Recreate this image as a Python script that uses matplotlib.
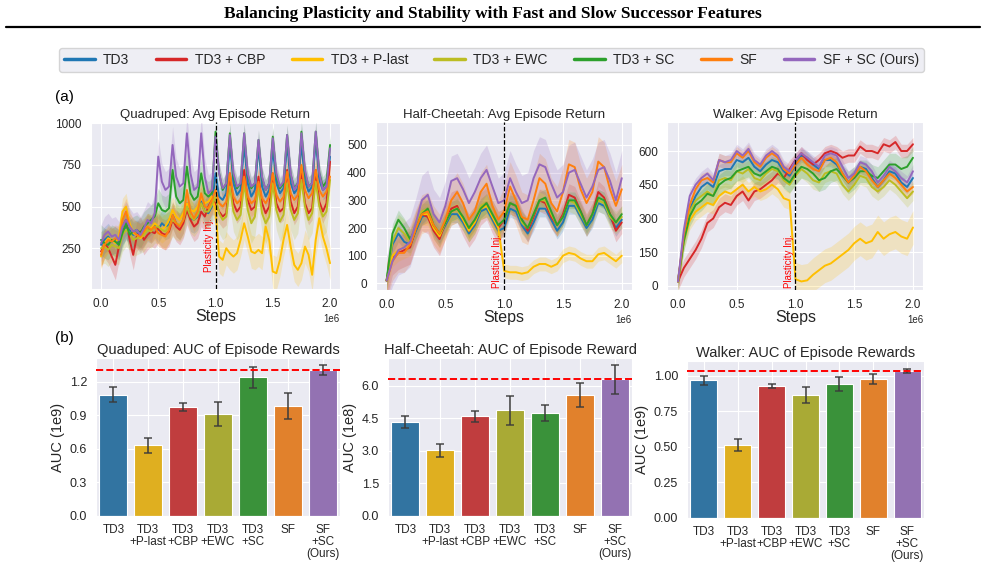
import numpy as np
import matplotlib
matplotlib.use("Agg")
import matplotlib.pyplot as plt
from matplotlib.lines import Line2D
import seaborn as sns

# ---- legend / method names ----
methods = ["TD3", "TD3 + CBP", "TD3 + P-last", "TD3 + EWC", "TD3 + SC", "SF", "SF + SC (Ours)"]
line_colors = ["#1f77b4", "#d62728", "#ffbf00", "#bcbd22", "#2ca02c", "#ff7f0e", "#9467bd"]

# ---- (a) Quadruped: avg episode return, every 1/32 of 1e6 steps ----
quad_td3 = [270, 300, 320, 290, 300, 280, 350, 380, 360, 330, 340, 320, 340, 370, 360, 390,
            360, 400, 380, 390, 450, 400, 380, 420, 520, 430, 420, 440, 530, 470, 460, 500,
            700, 560, 540, 580, 880, 640, 570, 600, 870, 640, 560, 600, 860, 620, 560, 600,
            850, 640, 580, 610, 880, 640, 580, 610, 880, 650, 590, 620, 900, 660, 600, 620, 800]
quad_cbp = [230, 280, 250, 200, 150, 260, 380, 420, 300, 210, 320, 350, 300, 330, 350, 340,
            370, 340, 330, 350, 420, 380, 360, 400, 480, 420, 380, 400, 470, 440, 500, 540,
            520, 470, 440, 460, 700, 520, 470, 500, 720, 540, 480, 500, 680, 520, 460, 500,
            700, 520, 470, 490, 720, 530, 460, 500, 700, 520, 460, 490, 720, 530, 470, 520, 770]
quad_plast = [200, 280, 310, 300, 280, 320, 470, 500, 400, 340, 330, 310, 330, 380, 370, 400,
              380, 360, 380, 420, 480, 440, 420, 460, 520, 480, 470, 500, 560, 520, 530, 560,
              480, 200, 180, 250, 220, 200, 220, 300, 400, 320, 230, 220, 240, 220, 380, 300,
              110, 100, 180, 300, 390, 260, 150, 120, 160, 260, 210, 90, 300, 430, 320, 250, 160]
quad_ewc = [250, 260, 240, 270, 260, 250, 330, 360, 340, 300, 310, 320, 330, 360, 350, 380,
            380, 360, 350, 380, 420, 400, 390, 420, 500, 440, 420, 450, 520, 470, 470, 510,
            560, 460, 420, 440, 620, 470, 420, 450, 640, 480, 400, 440, 620, 460, 400, 440,
            640, 480, 410, 450, 640, 480, 420, 460, 660, 500, 420, 460, 650, 500, 440, 470, 660]
quad_sc = [300, 280, 270, 300, 290, 270, 340, 400, 330, 350, 360, 340, 380, 400, 420, 440,
           520, 480, 470, 490, 720, 560, 520, 540, 740, 580, 540, 560, 700, 580, 560, 580,
           950, 700, 600, 640, 940, 680, 610, 640, 940, 690, 610, 640, 900, 670, 600, 640,
           920, 680, 610, 640, 930, 690, 610, 640, 950, 700, 620, 640, 950, 700, 620, 650, 870]
quad_sf = [210, 270, 300, 290, 310, 300, 420, 470, 380, 350, 330, 320, 350, 380, 360, 380,
           340, 330, 320, 360, 450, 400, 380, 420, 600, 470, 430, 470, 580, 500, 490, 540,
           600, 520, 500, 530, 700, 560, 520, 540, 680, 560, 520, 540, 650, 550, 520, 560,
           700, 570, 530, 560, 710, 580, 540, 570, 750, 600, 550, 580, 720, 600, 560, 590, 680]
quad_sfsc = [280, 330, 350, 320, 330, 300, 380, 420, 380, 350, 360, 330, 370, 420, 400, 460,
             800, 650, 600, 620, 870, 680, 620, 640, 940, 700, 600, 620, 940, 680, 580, 600,
             920, 700, 610, 640, 930, 700, 620, 640, 940, 700, 620, 640, 900, 680, 600, 640,
             910, 700, 620, 650, 930, 700, 600, 640, 940, 720, 620, 640, 950, 700, 600, 620, 850]
quad_spread_pre = [80, 90, 80, 100, 90, 80, 110]
quad_spread_post = [60, 70, 100, 120, 60, 80, 60]

# ---- (a) Half-Cheetah, every 0.05e6 steps ----
hc_td3 = [10, 140, 180, 150, 140, 190, 240, 250, 200, 170, 210, 250, 250, 220, 180, 210, 260, 270, 230, 190,
          200, 270, 260, 210, 180, 220, 270, 270, 230, 190, 220, 280, 280, 240, 200, 230, 290, 280, 240, 200, 230]
hc_cbp = [10, 90, 110, 120, 130, 200, 250, 240, 190, 160, 220, 270, 280, 230, 190, 220, 270, 290, 240, 200,
          230, 290, 280, 230, 190, 240, 300, 290, 240, 210, 250, 320, 310, 260, 210, 250, 330, 310, 250, 190, 220]
hc_plast = [10, 100, 120, 130, 140, 200, 250, 250, 200, 170, 220, 260, 270, 230, 190, 220, 270, 280, 240, 200,
            45, 40, 40, 35, 40, 60, 70, 70, 60, 70, 100, 110, 105, 90, 80, 80, 105, 110, 95, 80, 100]
hc_ewc = [10, 150, 200, 180, 150, 210, 260, 270, 210, 180, 220, 260, 270, 240, 200, 230, 280, 290, 250, 210,
          230, 290, 280, 220, 200, 250, 300, 300, 250, 210, 240, 300, 290, 250, 210, 250, 300, 290, 240, 220, 240]
hc_sc = [10, 180, 230, 200, 160, 200, 250, 270, 210, 180, 220, 260, 270, 240, 200, 230, 270, 290, 250, 210,
         230, 290, 280, 230, 200, 250, 300, 310, 260, 210, 240, 300, 300, 260, 210, 250, 310, 300, 250, 220, 250]
hc_sf = [10, 80, 110, 110, 140, 200, 250, 260, 210, 180, 230, 300, 330, 290, 230, 260, 330, 360, 280, 230,
         260, 350, 300, 240, 230, 300, 380, 360, 290, 260, 330, 430, 420, 340, 290, 330, 440, 420, 340, 280, 340]
hc_sfsc = [10, 80, 120, 130, 150, 220, 300, 320, 250, 220, 280, 370, 380, 340, 290, 330, 380, 410, 350, 290,
           300, 380, 330, 290, 300, 380, 430, 420, 360, 310, 330, 400, 410, 360, 310, 350, 410, 420, 370, 300, 380]
hc_spread_pre = [30, 60, 40, 50, 35, 70, 90]
hc_spread_post = [30, 40, 25, 40, 30, 90, 100]

# ---- (a) Walker, every 0.05e6 steps ----
wk_td3 = [20, 220, 340, 400, 440, 460, 440, 510, 520, 520, 560, 550, 570, 530, 510, 540, 560, 550, 510, 490,
          540, 580, 570, 540, 520, 560, 560, 540, 500, 460, 490, 530, 520, 480, 440, 470, 510, 500, 460, 440, 480]
wk_cbp = [20, 80, 120, 160, 210, 280, 300, 350, 370, 360, 400, 420, 380, 420, 430, 450, 470, 500, 480, 520,
          560, 590, 560, 540, 560, 590, 600, 590, 570, 580, 580, 620, 600, 600, 590, 630, 620, 640, 600, 600, 630]
wk_plast = [20, 200, 290, 330, 350, 370, 360, 400, 420, 410, 430, 450, 420, 440, 420, 430, 450, 430, 390, 380,
            30, 20, 25, 50, 70, 90, 100, 120, 140, 160, 190, 210, 190, 200, 240, 210, 230, 240, 220, 210, 260]
wk_ewc = [20, 210, 330, 380, 400, 420, 400, 470, 480, 470, 510, 500, 520, 480, 470, 500, 520, 510, 470, 450,
          490, 520, 500, 470, 460, 500, 510, 500, 450, 420, 450, 490, 480, 440, 420, 440, 470, 450, 420, 390, 420]
wk_sc = [20, 200, 310, 360, 380, 410, 400, 450, 470, 480, 510, 520, 530, 500, 490, 510, 530, 520, 480, 460,
         500, 530, 520, 500, 470, 480, 510, 520, 490, 460, 480, 510, 510, 490, 480, 510, 540, 540, 520, 530, 570]
wk_sf = [20, 230, 360, 430, 470, 480, 460, 560, 550, 550, 590, 570, 600, 550, 530, 570, 590, 570, 520, 500,
         540, 570, 540, 520, 510, 560, 570, 550, 500, 460, 490, 530, 510, 470, 440, 470, 500, 480, 450, 420, 440]
wk_sfsc = [20, 250, 400, 450, 480, 500, 470, 560, 550, 560, 600, 580, 610, 560, 540, 580, 600, 580, 530, 510,
           560, 590, 570, 550, 530, 580, 590, 580, 530, 480, 500, 550, 540, 510, 460, 490, 530, 510, 480, 460, 510]
wk_spread_pre = [30, 40, 40, 40, 45, 30, 30]
wk_spread_post = [30, 30, 75, 40, 50, 30, 30]

# ---- (b) AUC bars ----
bar_labels = ["TD3", "TD3\n+P-last", "TD3\n+CBP", "TD3\n+EWC", "TD3\n+SC", "SF", "SF\n+SC\n(Ours)"]
bar_colors = ["#1f77b4", "#ffbf00", "#d62728", "#bcbd22", "#2ca02c", "#ff7f0e", "#9467bd"]
quad_auc = [1.08, 0.63, 0.97, 0.91, 1.24, 0.98, 1.305]
quad_err = [0.067, 0.065, 0.035, 0.107, 0.094, 0.116, 0.045]
hc_auc = [4.34, 3.02, 4.58, 4.86, 4.74, 5.56, 6.29]
hc_err = [0.28, 0.29, 0.27, 0.67, 0.38, 0.55, 0.66]
wk_auc = [0.968, 0.516, 0.928, 0.865, 0.940, 0.979, 1.035]
wk_err = [0.032, 0.041, 0.014, 0.058, 0.049, 0.034, 0.017]

sns.set_style("darkgrid")
plt.rcParams["font.family"] = ["Liberation Sans", "DejaVu Sans"]
txt = "#262626"

W, H = 985, 576
fig = plt.figure(figsize=(W / 100, H / 100), dpi=100)


def box(left, top, right, bottom):
    return [left / W, 1 - bottom / H, (right - left) / W, (bottom - top) / H]


def draw_returns(ax, steps, curves, sp_pre, sp_post, title, ylim, yticks, inj_y):
    for color, y, s0, s1 in zip(line_colors, curves, sp_pre, sp_post):
        y = np.asarray(y, dtype=float)
        half = np.where(steps < 1e6, s0, s1)
        ax.fill_between(steps, y - half, y + half, color=color, alpha=0.2, lw=0)
        ax.plot(steps, y, color=color, lw=1.4)
    ax.axvline(1e6, color="k", ls="--", lw=0.9, zorder=5)
    ax.text(0.985e6, inj_y, "Plasticity Inj.", color="red", rotation=90,
            fontsize=7, ha="right", va="bottom",
            transform=ax.get_xaxis_transform())
    ax.set_xlim(-0.09e6, 2.087e6)
    ax.set_ylim(*ylim)
    ax.set_xticks([0, 0.5e6, 1e6, 1.5e6, 2e6])
    ax.set_yticks(yticks)
    ax.set_title(title, fontsize=9.5, color=txt, pad=3)
    ax.set_xlabel("Steps", fontsize=11.5, color=txt, labelpad=-1)
    ax.tick_params(labelsize=8.5, colors=txt, pad=3)
    ax.xaxis.get_offset_text().set_fontsize(7)


def draw_auc(ax, vals, errs, title, ylabel, ylim, yticks, fmt):
    x = np.arange(len(vals))
    cols = [sns.desaturate(c, 0.75) for c in bar_colors]
    ax.bar(x, vals, width=0.8, color=cols, edgecolor="white", lw=0.8, zorder=2)
    ax.errorbar(x, vals, yerr=errs, fmt="none", ecolor="#3b3b3b", elinewidth=1.3,
                capsize=3, capthick=1.2, alpha=0.85, zorder=3)
    ax.axhline(vals[-1], color="red", ls="--", lw=1.4, zorder=4)
    ax.set_xlim(-0.5, len(vals) - 0.5)
    ax.set_ylim(*ylim)
    ax.set_yticks(yticks)
    ax.set_yticklabels([fmt % t for t in yticks])
    ax.set_xticks(x)
    ax.set_xticklabels(bar_labels, fontsize=8.5, color=txt, linespacing=1.0)
    ax.tick_params(axis="y", labelsize=9, colors=txt, pad=3)
    ax.tick_params(axis="x", pad=2)
    ax.set_title(title, fontsize=10.5, color=txt, pad=3)
    ax.set_ylabel(ylabel, fontsize=10.5, color=txt, labelpad=3)


quad_steps = np.arange(len(quad_td3)) / 32 * 1e6
hc_steps = np.arange(len(hc_td3)) * 0.05e6
wk_steps = np.arange(len(wk_td3)) * 0.05e6

ax1 = fig.add_axes(box(90.7, 122, 340, 289))
draw_returns(ax1, quad_steps, [quad_td3, quad_cbp, quad_plast, quad_ewc, quad_sc, quad_sf, quad_sfsc],
             quad_spread_pre, quad_spread_post, "Quadruped: Avg Episode Return",
             (5, 1008), [250, 500, 750, 1000], 0.1)
ax2 = fig.add_axes(box(376, 122, 632, 290))
draw_returns(ax2, hc_steps, [hc_td3, hc_cbp, hc_plast, hc_ewc, hc_sc, hc_sf, hc_sfsc],
             hc_spread_pre, hc_spread_post, "Half-Cheetah: Avg Episode Return",
             (-24, 583), [0, 100, 200, 300, 400, 500], 0.01)
ax3 = fig.add_axes(box(667.4, 122, 923.2, 290))
draw_returns(ax3, wk_steps, [wk_td3, wk_cbp, wk_plast, wk_ewc, wk_sc, wk_sf, wk_sfsc],
             wk_spread_pre, wk_spread_post, "Walker: Avg Episode Return",
             (-18, 729), [0, 150, 300, 450, 600], 0.01)

bx1 = fig.add_axes(box(96, 358, 340, 516))
draw_auc(bx1, quad_auc, quad_err, "Quaduped: AUC of Episode Rewards", "AUC (1e9)",
         (0, 1.41), [0.0, 0.3, 0.6, 0.9, 1.2], "%.1f")
bx2 = fig.add_axes(box(388, 358, 632, 516))
draw_auc(bx2, hc_auc, hc_err, "Half-Cheetah: AUC of Episode Reward", "AUC (1e8)",
         (0, 7.27), [0.0, 1.5, 3.0, 4.5, 6.0], "%.1f")
bx3 = fig.add_axes(box(687, 361, 924, 518))
draw_auc(bx3, wk_auc, wk_err, "Walker: AUC of Episode Rewards", "AUC (1e9)",
         (0, 1.105), [0.0, 0.25, 0.5, 0.75, 1.0], "%.2f")

# page header
fig.text(0.5, 1 - 14 / H, "Balancing Plasticity and Stability with Fast and Slow Successor Features",
         ha="center", va="center", fontsize=12.5, fontweight="bold",
         family=["Liberation Serif", "DejaVu Serif"], color="black")
fig.add_artist(Line2D([6 / W, 980 / W], [1 - 26.5 / H] * 2, color="black", lw=1.6,
                      transform=fig.transFigure))

fig.text(55 / W, 1 - 97 / H, "(a)", fontsize=11, color="black", va="center")
fig.text(55 / W, 1 - 338 / H, "(b)", fontsize=11, color="black", va="center")

handles = [Line2D([0], [0], color=c, lw=2.5) for c in line_colors]
leg = fig.legend(handles, methods, loc="center", bbox_to_anchor=(491.5 / W, 1 - 60 / H),
                 ncol=7, fontsize=10, frameon=True, handlelength=2.2, handletextpad=0.6,
                 columnspacing=1.9, borderpad=0.35)
leg.get_frame().set_facecolor("#eaeaf2")
leg.get_frame().set_edgecolor("#cccccc")
for t in leg.get_texts():
    t.set_color(txt)

fig.savefig("out.png", dpi=100, facecolor="white")
